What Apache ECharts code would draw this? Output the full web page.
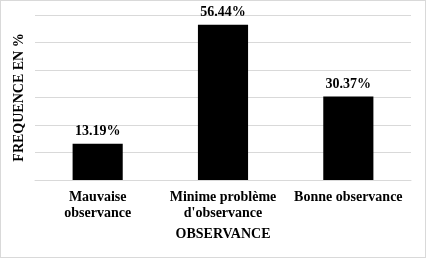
<!DOCTYPE html>
<html>
<head>
<meta charset="utf-8">
<script src="https://cdn.jsdelivr.net/npm/echarts@6/dist/echarts.min.js"></script>
<style>
  html, body { margin: 0; padding: 0; background: #fff; }
  #main { width: 424px; height: 256px; border: 1px solid #d9d9d9; }
</style>
</head>
<body>
<div id="main"></div>
<script>
var categories = ['Mauvaise\nobservance', 'Minime problème\nd\'observance', 'Bonne observance'];
var frequences = [13.19, 56.44, 30.37];

var chartDom = document.getElementById('main');
var myChart = echarts.init(chartDom);
var font = '"Liberation Serif", "Times New Roman", serif';

var option = {
  animation: false,
  grid: { left: 34, right: 14, top: 14, bottom: 77 },
  xAxis: {
    type: 'category',
    data: categories,
    name: 'OBSERVANCE',
    nameLocation: 'middle',
    nameGap: 47,
    nameTextStyle: { fontFamily: font, fontWeight: 'bold', fontSize: 14, color: '#000' },
    axisLine: { lineStyle: { color: '#d9d9d9' } },
    axisTick: { show: false },
    axisLabel: {
      fontFamily: font, fontWeight: 'bold', fontSize: 14, color: '#000',
      lineHeight: 16, margin: 9, interval: 0
    }
  },
  yAxis: {
    type: 'value',
    min: 0,
    max: 60,
    interval: 10,
    name: 'FREQUENCE EN %',
    nameLocation: 'middle',
    nameGap: 9,
    nameTextStyle: { fontFamily: font, fontWeight: 'bold', fontSize: 14, color: '#000' },
    axisLabel: { show: false },
    axisLine: { show: false },
    axisTick: { show: false },
    splitLine: { lineStyle: { color: '#d9d9d9' } }
  },
  series: [
    {
      type: 'bar',
      data: frequences,
      barWidth: '40%',
      itemStyle: { color: '#000' },
      label: {
        show: true,
        position: 'top',
        distance: 5,
        formatter: function (p) { return p.value.toFixed(2) + '%'; },
        fontFamily: font, fontWeight: 'bold', fontSize: 14, color: '#000'
      }
    }
  ]
};

option && myChart.setOption(option);
</script>
</body>
</html>
